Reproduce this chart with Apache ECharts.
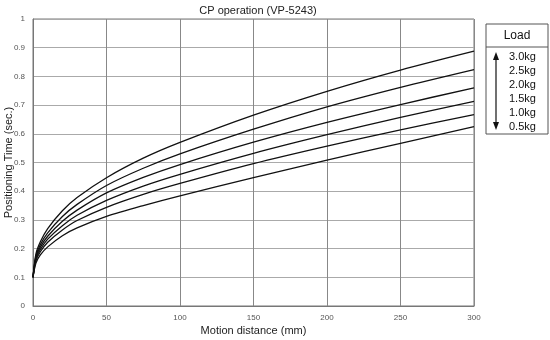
<!DOCTYPE html>
<html>
<head>
<meta charset="utf-8">
<script src="https://cdn.jsdelivr.net/npm/echarts@6/dist/echarts.min.js"></script>
<style>
  html, body { margin: 0; padding: 0; background: #fff; }
  #chart { width: 550px; height: 340px; }
</style>
</head>
<body>
<div id="chart"></div>
<script>
// Motion distance (mm) sample points
const distance = [0, 2, 5, 10, 20, 30, 50, 75, 100, 150, 200, 250, 300];

// Positioning time (sec.) per load
const load30 = [0.1, 0.182, 0.224, 0.27, 0.332, 0.378, 0.447, 0.515, 0.57, 0.665, 0.748, 0.822, 0.888];
const load25 = [0.1, 0.175, 0.214, 0.255, 0.312, 0.354, 0.42, 0.48, 0.53, 0.616, 0.694, 0.762, 0.824];
const load20 = [0.1, 0.169, 0.205, 0.243, 0.295, 0.334, 0.394, 0.448, 0.493, 0.571, 0.64, 0.702, 0.76];
const load15 = [0.1, 0.164, 0.197, 0.233, 0.28, 0.316, 0.368, 0.418, 0.459, 0.532, 0.597, 0.657, 0.713];
const load10 = [0.1, 0.158, 0.189, 0.222, 0.265, 0.298, 0.344, 0.389, 0.427, 0.496, 0.557, 0.614, 0.667];
const load05 = [0.1, 0.15, 0.178, 0.206, 0.245, 0.272, 0.312, 0.35, 0.384, 0.447, 0.508, 0.567, 0.625];

const loadLabels = ['3.0kg', '2.5kg', '2.0kg', '1.5kg', '1.0kg', '0.5kg'];
const loadSeries = [load30, load25, load20, load15, load10, load05];

const font = '"Liberation Sans", Arial, sans-serif';

const series = loadSeries.map((vals, i) => ({
  name: loadLabels[i],
  type: 'line',
  smooth: 0.3,
  symbol: 'none',
  data: distance.map((d, j) => [d, vals[j]]),
  lineStyle: { color: '#111', width: 1.3 },
  silent: true
}));

// Legend panel with load list and a double-headed arrow
const panelX = 486, panelY = 24, panelW = 62, panelH = 110;
const graphic = [
  { type: 'rect', shape: { x: panelX, y: panelY, width: panelW, height: panelH },
    style: { fill: '#fff', stroke: '#555', lineWidth: 1 } },
  { type: 'line', shape: { x1: panelX, y1: 47, x2: panelX + panelW, y2: 47 },
    style: { stroke: '#555', lineWidth: 1 } },
  { type: 'text', x: panelX + panelW / 2, y: 36,
    style: { text: 'Load', font: '12px ' + font, fill: '#111', align: 'center', verticalAlign: 'middle' } },
  { type: 'line', shape: { x1: 496, y1: 57, x2: 496, y2: 125 },
    style: { stroke: '#111', lineWidth: 1.2 } },
  { type: 'polygon', shape: { points: [[496, 52], [493, 60], [499, 60]] }, style: { fill: '#111' } },
  { type: 'polygon', shape: { points: [[496, 130], [493, 122], [499, 122]] }, style: { fill: '#111' } }
];
loadLabels.forEach((t, i) => {
  graphic.push({ type: 'text', x: 509, y: 57 + i * 14,
    style: { text: t, font: '11px ' + font, fill: '#111', align: 'left', verticalAlign: 'middle' } });
});

const chart = echarts.init(document.getElementById('chart'));
chart.setOption({
  animation: false,
  backgroundColor: '#fff',
  title: {
    text: 'CP operation (VP-5243)',
    left: 253, top: 0, textAlign: 'center',
    textStyle: { fontFamily: font, fontSize: 11, fontWeight: 'normal', color: '#222' }
  },
  grid: {
    left: 33, right: 76, top: 19, bottom: 34,
    containLabel: false, outerBoundsMode: 'none',
    show: true, borderColor: '#777', borderWidth: 1, backgroundColor: 'transparent'
  },
  xAxis: {
    type: 'value', min: 0, max: 300, interval: 50,
    name: 'Motion distance (mm)', nameLocation: 'middle', nameGap: 19, nameMoveOverlap: false,
    nameTextStyle: { fontFamily: font, fontSize: 11, color: '#222' },
    axisLine: { show: true, lineStyle: { color: '#777' } },
    axisTick: { show: false },
    axisLabel: { fontFamily: font, fontSize: 8, color: '#555', margin: 8 },
    splitLine: { show: true, lineStyle: { color: '#888', width: 1 } }
  },
  yAxis: {
    type: 'value', min: 0, max: 1, interval: 0.1,
    name: 'Positioning Time (sec.)', nameLocation: 'middle', nameGap: 19, nameRotate: 90,
    nameMoveOverlap: false,
    nameTextStyle: { fontFamily: font, fontSize: 11, color: '#222' },
    axisLine: { show: true, lineStyle: { color: '#777' } },
    axisTick: { show: false },
    axisLabel: { fontFamily: font, fontSize: 8, color: '#555', margin: 8 },
    splitLine: { show: true, lineStyle: { color: '#aaa', width: 1 } }
  },
  graphic: graphic,
  series: series
});
</script>
</body>
</html>
